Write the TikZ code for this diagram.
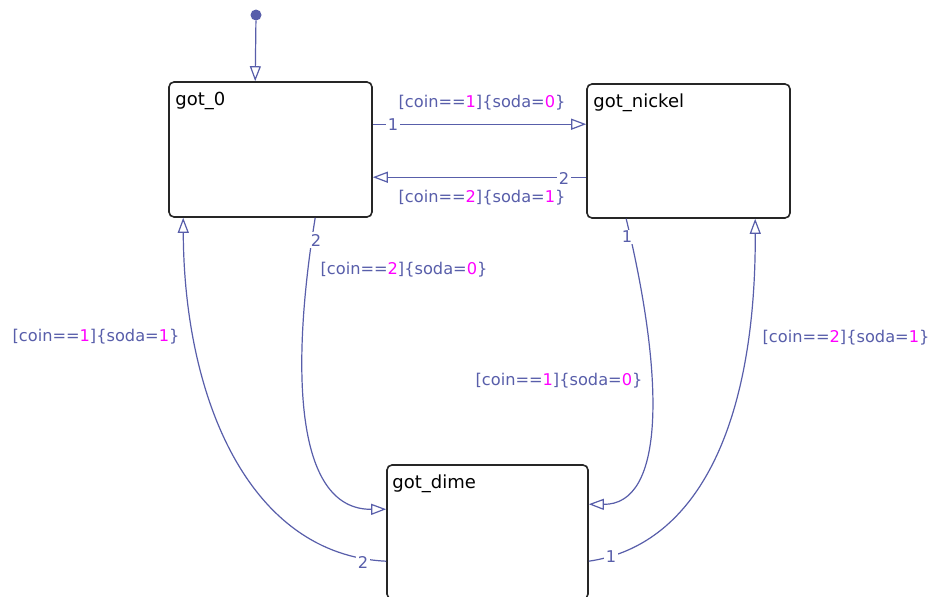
\documentclass[tikz,border=0pt]{standalone}
\usepackage{fontspec}
\setmainfont{DejaVu Sans}
\usetikzlibrary{arrows.meta}
\definecolor{tblue}{RGB}{88,94,170}
\definecolor{tmag}{RGB}{255,0,255}
\newcommand\magn[1]{\textcolor{tmag}{#1}}
\begin{document}
\begin{tikzpicture}[x=1pt,y=-1pt,
 state/.style={draw=black!85, line width=1.6pt, rounded corners=5pt, minimum width=203pt, minimum height=135pt, inner sep=0pt},
 sname/.style={anchor=base west, inner sep=0pt, font=\fontsize{18}{20}\selectfont, text=black},
 tr/.style={draw=tblue, line width=1.2pt, -{Triangle[open,length=15pt,width=11pt]}},
 glabel/.style={font=\fontsize{16.2}{18}\selectfont, text=tblue, inner sep=0pt},
 num/.style={font=\fontsize{16.2}{18}\selectfont, text=tblue, fill=white, inner sep=1.5pt}]
\useasboundingbox[fill=white] (0,0) rectangle (938,597);

% states
\node[state] (got0) at (270.5,149.5) {};
\node[state, minimum height=134pt] (gotn) at (688.5,151) {};
\node[state, minimum width=201pt, minimum height=134pt] (gotd) at (487.5,532) {};
\node[sname] (got0t) at ([shift={(7,24)}]got0.north west) {got\_0};
\node[sname] (gotnt) at ([shift={(7,24)}]gotn.north west) {got\_nickel};
\node[sname] (gotdt) at ([shift={(6,24)}]gotd.north west) {got\_dime};

% initial transition
\node[circle, fill=tblue, inner sep=0pt, minimum size=11pt] (init) at (256,15) {};
\draw[tr] (init) -- ([shift={(87,0)}]got0.north west);

% transitions
\draw[tr] ([shift={(0,43)}]got0.north east) -- ([shift={(0,41)}]gotn.north west);
\draw[tr] ([shift={(0,94)}]gotn.north west) -- ([shift={(0,96)}]got0.north east);
\draw[tr] ([shift={(147,0)}]got0.south west) .. controls (292,360) and (292,510) .. ([shift={(0,45)}]gotd.north west);
\draw[tr] ([shift={(0,97)}]gotd.north west) .. controls (250,555) and (184,400) .. ([shift={(15,0)}]got0.south west);
\draw[tr] ([shift={(40,0)}]gotn.south west) .. controls (665,380) and (665,505) .. ([shift={(0,40)}]gotd.north east);
\draw[tr] ([shift={(0,97)}]gotd.north east) .. controls (700,545) and (756,420) .. ([shift={(169,0)}]gotn.south west);

% transition numbers
\node[num] (n1) at (393,125) {1};
\node[num] (n2) at (564,178) {2};
\node[num] (n3) at (316,240) {2};
\node[num] (n4) at (363,562) {2};
\node[num] (n5) at (627,237) {1};
\node[num] (n6) at (611,557) {1};

% guard labels
\node[glabel] (l1) at (482,103) {[coin==\magn{1}]\{soda=\magn{0}\}};
\node[glabel] (l2) at (482,198) {[coin==\magn{2}]\{soda=\magn{1}\}};
\node[glabel] (l3) at (404,270) {[coin==\magn{2}]\{soda=\magn{0}\}};
\node[glabel] (l4) at (96,337) {[coin==\magn{1}]\{soda=\magn{1}\}};
\node[glabel] (l5) at (559,381) {[coin==\magn{1}]\{soda=\magn{0}\}};
\node[glabel] (l6) at (846,338) {[coin==\magn{2}]\{soda=\magn{1}\}};
\end{tikzpicture}
\end{document}
